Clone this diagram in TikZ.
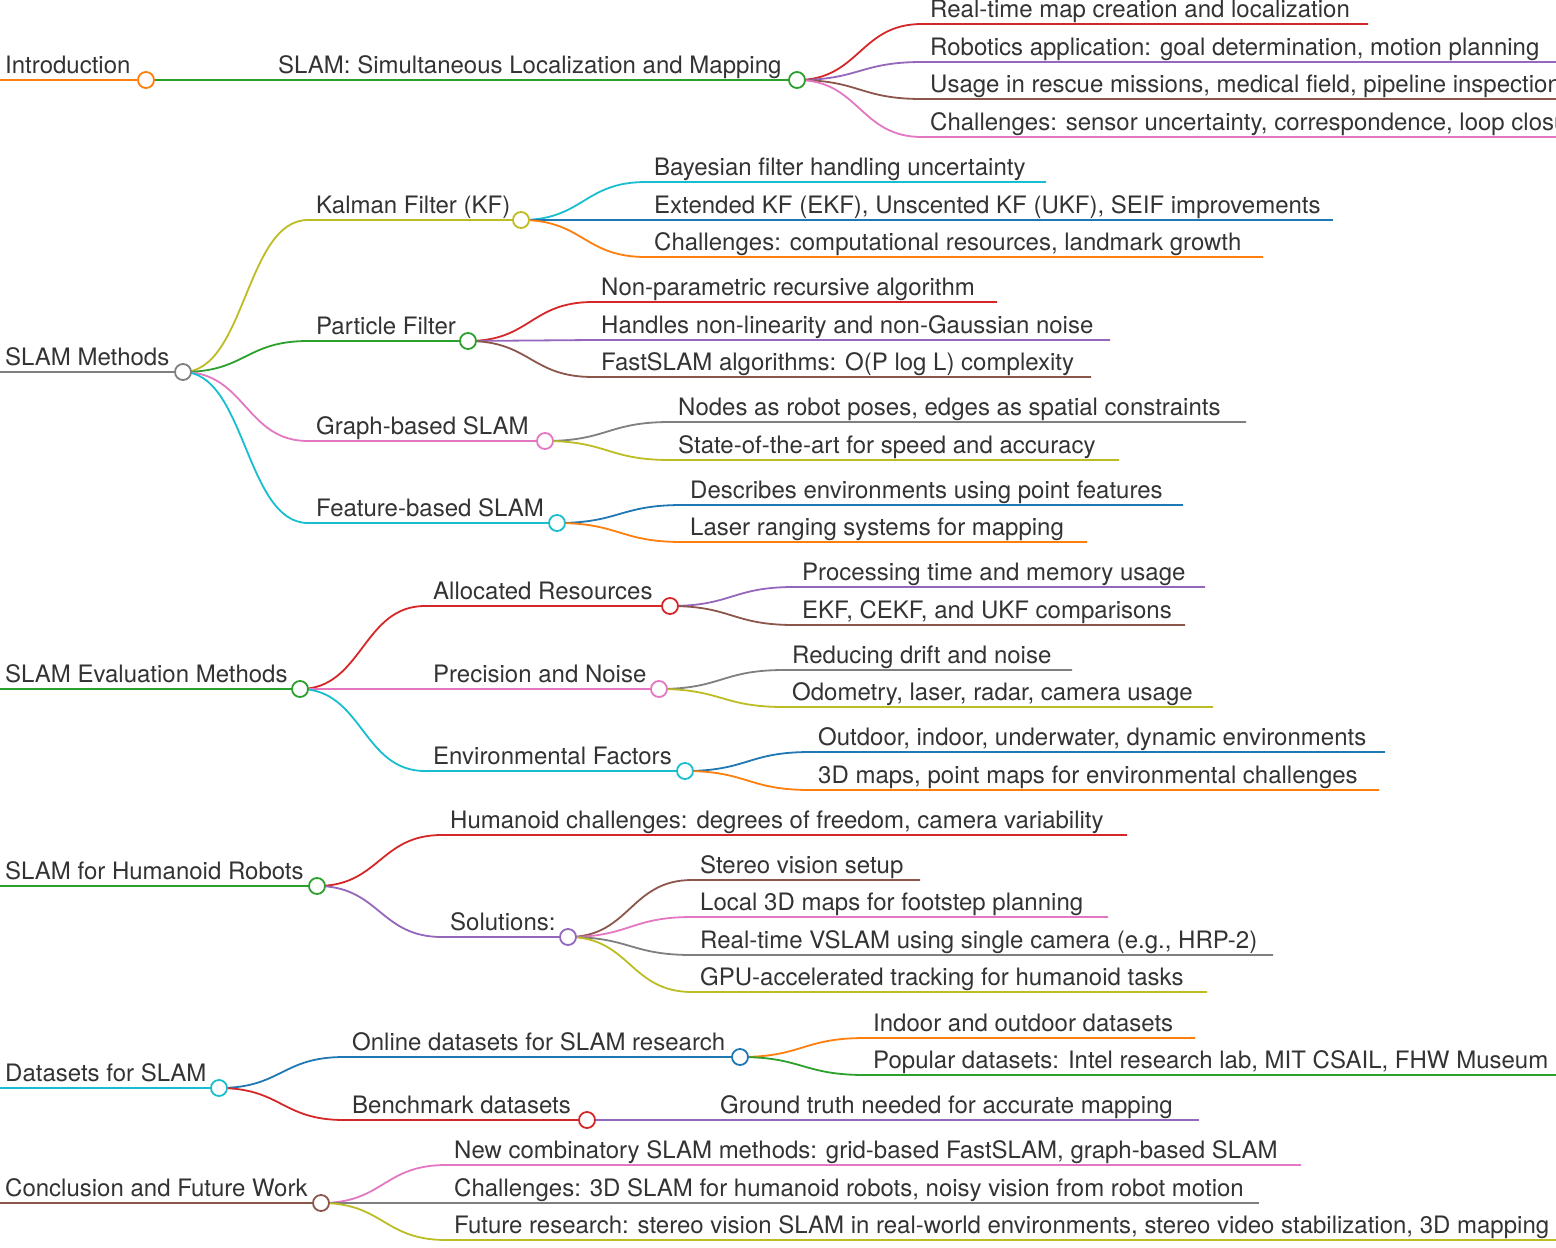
\documentclass[tikz,border=0pt]{standalone}
\usepackage{fontspec}
\setmainfont{TeX Gyre Heros}
\definecolor{cO}{HTML}{FF7F0E}\definecolor{cG}{HTML}{2CA02C}\definecolor{cR}{HTML}{D62728}
\definecolor{cP}{HTML}{9467BD}\definecolor{cB}{HTML}{8C564B}\definecolor{cK}{HTML}{E377C2}
\definecolor{cY}{HTML}{7F7F7F}\definecolor{cL}{HTML}{BCBD22}\definecolor{cC}{HTML}{17BECF}
\definecolor{cU}{HTML}{1F77B4}\definecolor{txt}{HTML}{333333}
\tikzset{lnk/.style={line width=1.8pt}, lbl/.style={anchor=base west,inner sep=0pt,text=txt,font=\fontsize{24}{26}\selectfont},
 dot/.style={line width=1.8pt}}
% px py textx endx y color text
\newcommand\br[7]{%
 \pgfmathsetmacro\mx{(#1+#3-8)/2}%
 \draw[lnk,#6] (#1,#2) .. controls (\mx,#2) and (\mx,#5) .. (#3-8,#5) -- (#4,#5);
 \node[lbl] at (#3,#5-7) {#7};}
\newcommand\dt[3]{\draw[dot,draw=#3,fill=white] (#1,#2) circle (8);}
\begin{document}
\begin{tikzpicture}[x=1pt,y=-1pt]
\useasboundingbox (0,0) rectangle (1556,1248);
\clip (0,0) rectangle (1556,1248);
% Introduction
\br{0}{80}{5}{146}{80}{cO}{Introduction}
\br{146}{80}{278}{797}{80}{cG}{SLAM: Simultaneous Localization and Mapping}
\br{797}{80}{930}{1368}{24}{cR}{Real-time map creation and localization}
\br{797}{80}{930}{1556}{62}{cP}{Robotics application: goal determination, motion planning}
\br{797}{80}{930}{1556}{99}{cB}{Usage in rescue missions, medical field, pipeline inspection}
\br{797}{80}{930}{1556}{137}{cK}{Challenges: sensor uncertainty, correspondence, loop closure}
\dt{146}{80}{cO}\dt{797}{80}{cG}
% SLAM Methods
\br{0}{372}{5}{183}{372}{cY}{SLAM Methods}
\br{183}{372}{316}{521}{220}{cL}{Kalman Filter (KF)}
\br{521}{220}{654}{1046}{182}{cC}{Bayesian filter handling uncertainty}
\br{521}{220}{654}{1333}{220}{cU}{Extended KF (EKF), Unscented KF (UKF), SEIF improvements}
\br{521}{220}{654}{1263}{257}{cO}{Challenges: computational resources, landmark growth}
\br{183}{372}{316}{468}{341}{cG}{Particle Filter}
\br{468}{341}{601}{997}{302}{cR}{Non-parametric recursive algorithm}
\br{468}{341}{601}{1110}{340}{cP}{Handles non-linearity and non-Gaussian noise}
\br{468}{341}{601}{1091}{377}{cB}{FastSLAM algorithms: O(P log L) complexity}
\br{183}{372}{316}{545}{441}{cK}{Graph-based SLAM}
\br{545}{441}{678}{1246}{422}{cY}{Nodes as robot poses, edges as spatial constraints}
\br{545}{441}{678}{1119}{460}{cL}{State-of-the-art for speed and accuracy}
\br{183}{372}{316}{557}{523}{cC}{Feature-based SLAM}
\br{557}{523}{690}{1183}{505}{cU}{Describes environments using point features}
\br{557}{523}{690}{1087}{542}{cO}{Laser ranging systems for mapping}
\dt{183}{372}{cY}\dt{521}{220}{cL}\dt{468}{341}{cG}\dt{545}{441}{cK}\dt{557}{523}{cC}
% Evaluation
\br{0}{689}{5}{300}{689}{cG}{SLAM Evaluation Methods}
\br{300}{689}{433}{670}{606}{cR}{Allocated Resources}
\br{670}{606}{802}{1205}{587}{cP}{Processing time and memory usage}
\br{670}{606}{802}{1185}{625}{cB}{EKF, CEKF, and UKF comparisons}
\br{300}{689}{433}{659}{689}{cK}{Precision and Noise}
\br{659}{689}{792}{1072}{670}{cY}{Reducing drift and noise}
\br{659}{689}{792}{1213}{707}{cL}{Odometry, laser, radar, camera usage}
\br{300}{689}{433}{685}{771}{cC}{Environmental Factors}
\br{685}{771}{818}{1385}{752}{cU}{Outdoor, indoor, underwater, dynamic environments}
\br{685}{771}{818}{1379}{790}{cO}{3D maps, point maps for environmental challenges}
\dt{300}{689}{cG}\dt{670}{606}{cR}\dt{659}{689}{cK}\dt{685}{771}{cC}
% Humanoid
\br{0}{886}{5}{317}{886}{cG}{SLAM for Humanoid Robots}
\br{317}{886}{450}{1127}{835}{cR}{Humanoid challenges: degrees of freedom, camera variability}
\br{317}{886}{450}{568}{937}{cP}{Solutions:}
\br{568}{937}{700}{920}{880}{cB}{Stereo vision setup}
\br{568}{937}{700}{1108}{917}{cK}{Local 3D maps for footstep planning}
\br{568}{937}{700}{1273}{955}{cY}{Real-time VSLAM using single camera (e.g., HRP-2)}
\br{568}{937}{700}{1207}{992}{cL}{GPU-accelerated tracking for humanoid tasks}
\dt{317}{886}{cG}\dt{568}{937}{cP}
% Datasets
\br{0}{1088}{5}{219}{1088}{cC}{Datasets for SLAM}
\br{219}{1088}{352}{740}{1057}{cU}{Online datasets for SLAM research}
\br{740}{1057}{873}{1195}{1038}{cO}{Indoor and outdoor datasets}
\br{740}{1057}{873}{1556}{1075}{cG}{Popular datasets: Intel research lab, MIT CSAIL, FHW Museum}
\br{219}{1088}{352}{587}{1120}{cR}{Benchmark datasets}
\br{587}{1120}{720}{1199}{1120}{cP}{Ground truth needed for accurate mapping}
\dt{219}{1088}{cC}\dt{740}{1057}{cU}\dt{587}{1120}{cR}
% Conclusion
\br{0}{1203}{5}{321}{1203}{cB}{Conclusion and Future Work}
\br{321}{1203}{454}{1301}{1165}{cK}{New combinatory SLAM methods: grid-based FastSLAM, graph-based SLAM}
\br{321}{1203}{454}{1259}{1203}{cY}{Challenges: 3D SLAM for humanoid robots, noisy vision from robot motion}
\br{321}{1203}{454}{1556}{1240}{cL}{Future research: stereo vision SLAM in real-world environments, stereo video stabilization, 3D mapping}
\dt{321}{1203}{cB}
\end{tikzpicture}
\end{document}
